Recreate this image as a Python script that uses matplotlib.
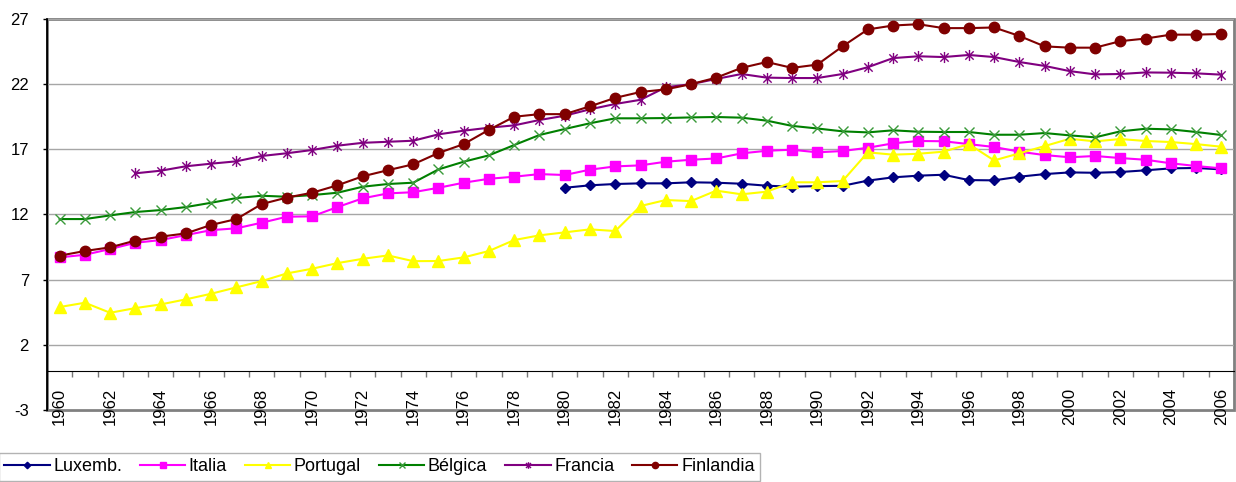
import numpy as np
import matplotlib
matplotlib.use('agg')
import matplotlib.pyplot as plt
from matplotlib.patches import Rectangle
from matplotlib.path import Path

plt.rcParams['font.family'] = ['Liberation Sans', 'DejaVu Sans']
plt.rcParams['axes.unicode_minus'] = False

# datos (eje x: años 1960-2006)
years = list(range(1960, 2007))

luxemb_years = list(range(1980, 2007))
luxemb = [14.05, 14.24, 14.34, 14.39, 14.39, 14.47, 14.44, 14.36, 14.21, 14.13,
          14.18, 14.2, 14.6, 14.85, 14.98, 15.05, 14.64, 14.62, 14.9, 15.1,
          15.23, 15.2, 15.26, 15.39, 15.54, 15.57, 15.46]

italia = [8.71, 8.91, 9.35, 9.83, 10.04, 10.42, 10.8, 10.94, 11.37, 11.83,
          11.86, 12.57, 13.24, 13.62, 13.71, 14.05, 14.44, 14.74, 14.9, 15.1,
          15.03, 15.44, 15.69, 15.77, 16.05, 16.2, 16.3, 16.69, 16.89, 16.97,
          16.77, 16.87, 17.12, 17.46, 17.64, 17.62, 17.4, 17.18, 16.82, 16.56,
          16.39, 16.49, 16.33, 16.2, 15.93, 15.72, 15.54]

portugal = [4.9, 5.23, 4.46, 4.82, 5.1, 5.49, 5.92, 6.41, 6.89, 7.48,
            7.84, 8.27, 8.6, 8.86, 8.42, 8.43, 8.71, 9.2, 10.04, 10.4,
            10.63, 10.86, 10.73, 12.65, 13.11, 13.03, 13.83, 13.55, 13.75, 14.47,
            14.47, 14.57, 16.77, 16.59, 16.66, 16.82, 17.4, 16.15, 16.69, 17.25,
            17.81, 17.61, 17.79, 17.64, 17.56, 17.4, 17.2]

belgica = [11.65, 11.65, 11.93, 12.19, 12.34, 12.57, 12.9, 13.26, 13.44, 13.36,
           13.49, 13.67, 14.13, 14.34, 14.44, 15.46, 16.05, 16.54, 17.33, 18.1,
           18.56, 19.0, 19.38, 19.38, 19.4, 19.45, 19.48, 19.43, 19.2, 18.8,
           18.6, 18.38, 18.3, 18.46, 18.35, 18.33, 18.33, 18.12, 18.12, 18.25,
           18.07, 17.92, 18.38, 18.58, 18.53, 18.33, 18.1]

francia_years = list(range(1963, 2007))
francia = [15.16, 15.36, 15.7, 15.9, 16.08, 16.49, 16.7, 16.95, 17.28, 17.5,
           17.58, 17.66, 18.15, 18.43, 18.66, 18.84, 19.25, 19.58, 20.07, 20.48,
           20.8, 21.76, 22.0, 22.4, 22.78, 22.5, 22.47, 22.47, 22.78, 23.3,
           24.0, 24.14, 24.08, 24.24, 24.08, 23.7, 23.4, 23.0, 22.75, 22.78,
           22.9, 22.88, 22.83, 22.73]

finlandia = [8.84, 9.2, 9.48, 10.0, 10.3, 10.55, 11.2, 11.65, 12.8, 13.3,
             13.67, 14.24, 14.93, 15.4, 15.85, 16.72, 17.4, 18.5, 19.5, 19.7,
             19.7, 20.3, 20.95, 21.4, 21.6, 22.0, 22.5, 23.25, 23.7, 23.25,
             23.5, 24.9, 26.2, 26.5, 26.6, 26.3, 26.3, 26.35, 25.7, 24.9,
             24.8, 24.8, 25.3, 25.5, 25.8, 25.8, 25.85]

y_ticks = [-3, 2, 7, 12, 17, 22, 27]

# marcador estrella tipo Excel: aspa + línea vertical
star = Path([(0, -1), (0, 1), (-0.75, -0.75), (0.75, 0.75), (-0.75, 0.75), (0.75, -0.75)],
            [Path.MOVETO, Path.LINETO] * 3)

fig = plt.figure(figsize=(12.36, 4.82), dpi=100)
ax = fig.add_axes([47 / 1236, 1 - 410 / 482, 1187 / 1236, 391 / 482])

ax.plot(luxemb_years, luxemb, color='#000080', lw=1.5, marker='D', ms=5.5,
        label='Luxemb.', zorder=3)
ax.plot(years, italia, color='#FF00FF', lw=1.5, marker='s', ms=7,
        label='Italia', zorder=3)
ax.plot(years, portugal, color='#FFFF00', lw=1.5, marker='^', ms=8,
        label='Portugal', zorder=3)
ax.plot(years, belgica, color='#008000', lw=1.5, marker='x', ms=7, mew=1,
        mec='#3A9A3A', label='Bélgica', zorder=3)
ax.plot(francia_years, francia, color='#800080', lw=1.5, marker=star, ms=8,
        mew=1, label='Francia', zorder=3)
ax.plot(years, finlandia, color='#800000', lw=1.5, marker='o', ms=7.5,
        label='Finlandia', zorder=3)

ax.set_xlim(1959.5, 2006.5)
ax.set_ylim(-3, 27)

# eje y
ax.set_yticks(y_ticks)
ax.yaxis.grid(True, color='#A6A6A6', lw=1)
ax.tick_params(axis='y', length=3, width=1, pad=10, labelsize=12)

# eje x cruzando en 0
ax.spines['bottom'].set_position(('data', 0))
ax.spines['bottom'].set_color('black')
ax.spines['left'].set_color('black')
ax.spines['top'].set_visible(False)
ax.spines['right'].set_visible(False)
ax.set_xticks(years[::2])
ax.set_xticklabels([str(y) for y in years[::2]], rotation=90, va='top')
ax.set_xticks(np.arange(1960.5, 2006, 1), minor=True)
ax.tick_params(axis='x', which='major', length=0, pad=12, labelsize=12)
ax.tick_params(axis='x', which='minor', length=4, width=1, color='#777777')

# borde del área de trazado
ax.add_patch(Rectangle((0, 0), 1, 1, transform=ax.transAxes, fill=False,
                       ec='#808080', lw=2, clip_on=False, zorder=0.5))
ax.plot([0, 0], [0, 1], transform=ax.transAxes, color='black', lw=1.2,
        clip_on=False, zorder=4)

leg = fig.legend(loc='upper left', bbox_to_anchor=(-1 / 1236, 1 - 453 / 482), ncol=6,
                 frameon=True, fancybox=False, edgecolor='#A0A0A0',
                 fontsize=13, handlelength=2.5, handletextpad=0.2,
                 columnspacing=1.0, borderpad=0.3, borderaxespad=0,
                 markerscale=0.6)
leg.get_frame().set_linewidth(1)

fig.savefig('out.png', dpi=100)
